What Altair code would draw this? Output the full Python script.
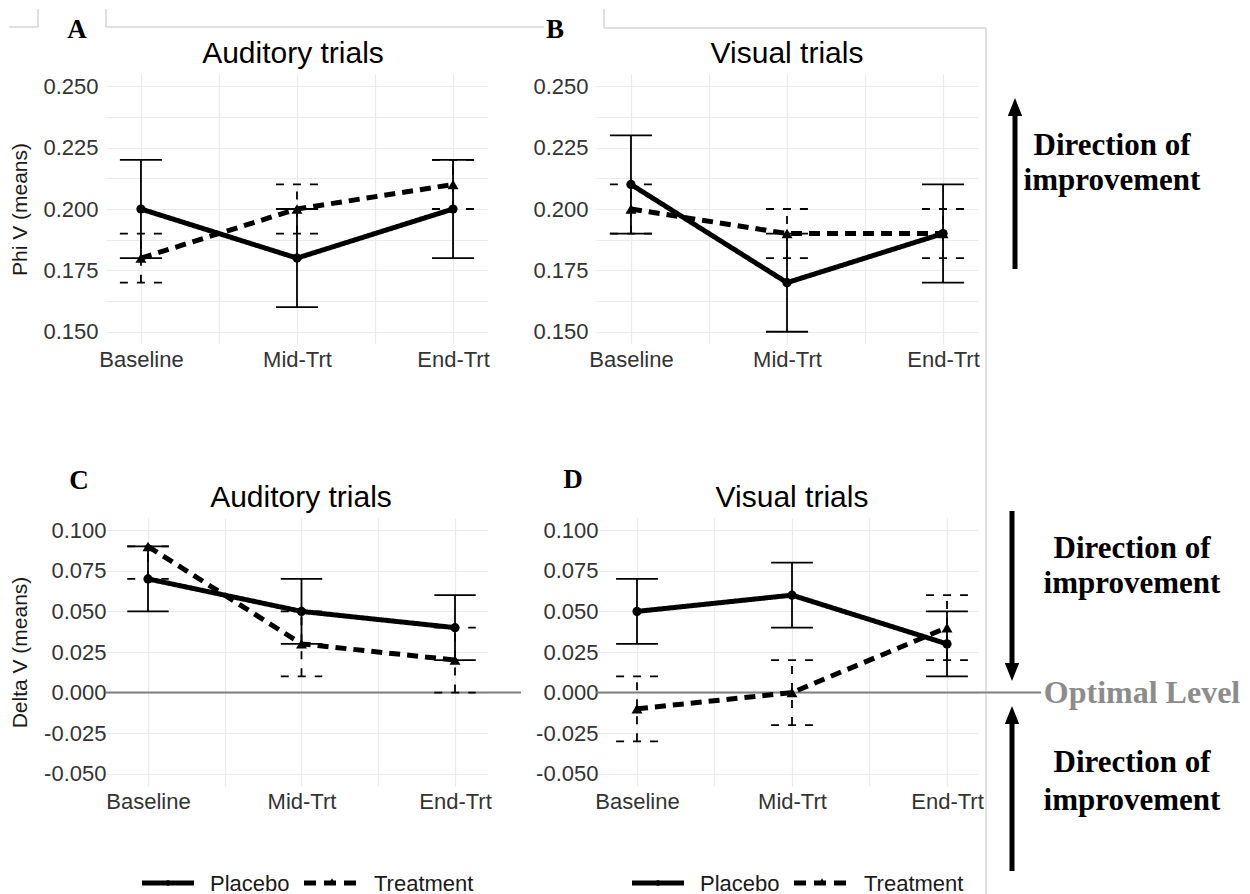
import altair as alt
import pandas as pd

phases = ["Baseline", "Mid-Trt", "End-Trt"]
groups = ["Placebo", "Treatment"]

# Panel A: Auditory trials, Phi V
a_placebo_mean = [0.200, 0.180, 0.200]
a_placebo_low = [0.180, 0.160, 0.180]
a_placebo_high = [0.220, 0.200, 0.220]
a_treat_mean = [0.180, 0.200, 0.210]
a_treat_low = [0.170, 0.190, 0.200]
a_treat_high = [0.190, 0.210, 0.220]

# Panel B: Visual trials, Phi V
b_placebo_mean = [0.210, 0.170, 0.190]
b_placebo_low = [0.190, 0.150, 0.170]
b_placebo_high = [0.230, 0.190, 0.210]
b_treat_mean = [0.200, 0.190, 0.190]
b_treat_low = [0.190, 0.180, 0.180]
b_treat_high = [0.210, 0.200, 0.200]

# Panel C: Auditory trials, Delta V
c_placebo_mean = [0.070, 0.050, 0.040]
c_placebo_low = [0.050, 0.030, 0.020]
c_placebo_high = [0.090, 0.070, 0.060]
c_treat_mean = [0.090, 0.030, 0.020]
c_treat_low = [0.070, 0.010, 0.000]
c_treat_high = [0.090, 0.050, 0.040]

# Panel D: Visual trials, Delta V
d_placebo_mean = [0.050, 0.060, 0.030]
d_placebo_low = [0.030, 0.040, 0.010]
d_placebo_high = [0.070, 0.080, 0.050]
d_treat_mean = [-0.010, 0.000, 0.040]
d_treat_low = [-0.030, -0.020, 0.020]
d_treat_high = [0.010, 0.020, 0.060]

phi_ticks = [0.150, 0.175, 0.200, 0.225, 0.250]
delta_ticks = [-0.050, -0.025, 0.000, 0.025, 0.050, 0.075, 0.100]

panel_titles = ["Auditory trials", "Visual trials", "Auditory trials", "Visual trials"]
panel_letters = ["A", "B", "C", "D"]
y_titles = ["Phi V (means)", "Delta V (means)"]
direction_lines = ["Direction of", "improvement"]
optimal_label = "Optimal Level"

SANS = "Liberation Sans"
SERIF = "Liberation Serif"
TEST_T = f"datum.group === '{groups[1]}'"


def one():
    return pd.DataFrame({"k": [0]})


def make_df(pm, pl, ph, tm, tl, th):
    rows = []
    for g, (m, lo, hi) in zip(groups, [(pm, pl, ph), (tm, tl, th)]):
        for i, p in enumerate(phases):
            rows.append(dict(group=g, phase=p, idx=i + 1, mean=m[i], low=lo[i], high=hi[i]))
    return pd.DataFrame(rows)


def txt(text, x, y, size, font=SANS, weight="normal", color="black", align="center", baseline="alphabetic"):
    return alt.Chart(one()).mark_text(
        text=text, font=font, fontSize=size, fontWeight=weight, color=color,
        align=align, baseline=baseline
    ).encode(x=alt.value(x), y=alt.value(y))


def hline(x1, x2, y, color="#d6d6d6", width=1.5, dash=None):
    kw = dict(color=color, strokeWidth=width)
    if dash is not None:
        kw["strokeDash"] = dash
    return alt.Chart(one()).mark_rule(**kw).encode(
        x=alt.value(x1), x2=alt.value(x2), y=alt.value(y))


def vline(x, y1, y2, color="#d6d6d6", width=1.5):
    return alt.Chart(one()).mark_rule(color=color, strokeWidth=width).encode(
        x=alt.value(x), y=alt.value(y1), y2=alt.value(y2))


def arrow(x, tail, tip, up=True):
    shape = "M0,-1L0.8,1L-0.8,1Z" if up else "M0,1L0.8,-1L-0.8,-1Z"
    head_c = tip + 9 if up else tip - 9
    shaft_end = tip + 14 if up else tip - 14
    shaft = alt.Chart(one()).mark_rule(color="black", strokeWidth=5).encode(
        x=alt.value(x), y=alt.value(tail), y2=alt.value(shaft_end))
    head = alt.Chart(one()).mark_point(shape=shape, size=324, filled=True, opacity=1,
                                       color="black").encode(
        x=alt.value(x), y=alt.value(head_c))
    return [shaft, head]


def panel(df, ticks, ydom, xdom, width, height, title, title_x, letter, letter_xy, ytitle,
          yoffset, title_pad, extras):
    minors = [(ticks[i] + ticks[i + 1]) / 2 for i in range(len(ticks) - 1)]
    yvals = sorted(ticks + minors)
    major_list = ",".join(repr(t) for t in ticks)
    ylabel = (f"indexof([{major_list}], datum.value) >= 0 ? "
              "replace(format(datum.value, '.3f'), '\u2212', '-') : ''")
    xlabel = " : ".join(f"datum.value === {i + 1} ? '{p}'" for i, p in enumerate(phases)) + " : ''"

    xscale = alt.Scale(domain=xdom, nice=False, zero=False)
    yscale = alt.Scale(domain=ydom, nice=False, zero=False)
    xaxis = alt.Axis(values=[1, 1.5, 2, 2.5, 3], labelExpr=xlabel, labelPadding=5,
                     labelFlush=False, labelOverlap=False, grid=True)
    yaxis = alt.Axis(values=yvals, labelExpr=ylabel, labelPadding=8, titlePadding=title_pad,
                     labelFlush=False, labelOverlap=False, grid=True, offset=yoffset)

    def X(f):
        return alt.X(f, scale=xscale, axis=xaxis, title=None)

    def Y(f):
        return alt.Y(f, scale=yscale, axis=yaxis, title=ytitle)

    base = alt.Chart(df)
    err_dash = alt.condition(TEST_T, alt.value([8, 9]), alt.value([1, 0]))
    errbar = base.mark_rule(color="black", strokeWidth=1.8, clip=True).encode(
        x=X("idx:Q"), y=Y("low:Q"), y2="high:Q", strokeDash=err_dash)
    caps = base.transform_calculate(xl="datum.idx - 0.135", xr="datum.idx + 0.135")
    cap_lo = caps.mark_rule(color="black", strokeWidth=1.8, clip=True).encode(
        x=X("xl:Q"), x2="xr:Q", y=Y("low:Q"), strokeDash=err_dash)
    cap_hi = caps.mark_rule(color="black", strokeWidth=1.8, clip=True).encode(
        x=X("xl:Q"), x2="xr:Q", y=Y("high:Q"), strokeDash=err_dash)
    lines = base.mark_line(color="black", strokeWidth=5).encode(
        x=X("idx:Q"), y=Y("mean:Q"), detail="group:N",
        strokeDash=alt.condition(TEST_T, alt.value([11, 7]), alt.value([1, 0])))
    points = base.mark_point(filled=True, opacity=1, color="black").encode(
        x=X("idx:Q"), y=Y("mean:Q"),
        shape=alt.condition(TEST_T, alt.value("triangle-up"), alt.value("circle")),
        size=alt.condition(TEST_T, alt.value(120), alt.value(85)))

    title_t = txt(title, title_x, -11, 30)
    letter_t = txt(letter, letter_xy[0], letter_xy[1], 27, font=SERIF, weight="bold")

    layers = extras["under"] + [errbar, cap_lo, cap_hi, lines, points, title_t, letter_t] + extras["over"]
    return alt.layer(*layers).properties(width=width, height=height)


def legend_layers():
    out = []
    out.append(hline(36, 88, 365, color="black", width=5))
    out.append(alt.Chart(one()).mark_point(shape="circle", size=30, filled=True, opacity=1,
                                           color="black").encode(x=alt.value(62), y=alt.value(365)))
    out.append(txt(groups[0], 104, 366, 22, color="#1a1a1a", align="left", baseline="middle"))
    out.append(hline(198, 256, 365, color="black", width=5, dash=[12, 8]))
    out.append(alt.Chart(one()).mark_point(shape="triangle-up", size=40, filled=True, opacity=1,
                                           color="black").encode(x=alt.value(226), y=alt.value(363)))
    out.append(txt(groups[1], 268, 366, 22, color="#1a1a1a", align="left", baseline="middle"))
    return out


def zero_line(x2):
    return alt.Chart(one()).mark_rule(color="#808080", strokeWidth=2).encode(
        x=alt.value(0), x2=alt.value(x2), y=alt.datum(0))


df_a = make_df(a_placebo_mean, a_placebo_low, a_placebo_high, a_treat_mean, a_treat_low, a_treat_high)
df_b = make_df(b_placebo_mean, b_placebo_low, b_placebo_high, b_treat_mean, b_treat_low, b_treat_high)
df_c = make_df(c_placebo_mean, c_placebo_low, c_placebo_high, c_treat_mean, c_treat_low, c_treat_high)
df_d = make_df(d_placebo_mean, d_placebo_low, d_placebo_high, d_treat_mean, d_treat_low, d_treat_high)

phi_dom = [0.145, 0.255]
delta_dom = [-0.0575, 0.1075]

extras_a = {
    "under": [
        hline(-97, -68, -47), vline(-68, -65, -47),
        vline(0, -65, -47), hline(0, 438, -47),
    ],
    "over": [],
}
extras_b = {
    "under": [
        vline(8, -65, -46), hline(8, 390, -46), vline(390, -46, 821),
    ],
    "over": arrow(419, 195, 24, up=True) + [
        txt(direction_lines[0], 516, 72, 31, font=SERIF, weight="bold", baseline="middle"),
        txt(direction_lines[1], 516, 107, 31, font=SERIF, weight="bold", baseline="middle"),
    ],
}
extras_c = {
    "under": [zero_line(415)],
    "over": legend_layers(),
}
extras_d = {
    "under": [zero_line(445)],
    "over": legend_layers() + arrow(416, -7, 163, up=False) + arrow(416, 353, 188, up=True) + [
        txt(direction_lines[0], 536, 31, 31, font=SERIF, weight="bold", baseline="middle"),
        txt(direction_lines[1], 536, 66, 31, font=SERIF, weight="bold", baseline="middle"),
        alt.Chart(one()).mark_text(text=optimal_label, font=SERIF, fontSize=32, fontWeight="bold",
                                   color="#8c8c8c", align="center", baseline="middle").encode(
            x=alt.value(546), y=alt.datum(0)),
        txt(direction_lines[0], 536, 245, 31, font=SERIF, weight="bold", baseline="middle"),
        txt(direction_lines[1], 536, 283, 31, font=SERIF, weight="bold", baseline="middle"),
    ],
}

pa = panel(df_a, phi_ticks, phi_dom, [0.776, 3.224], 382, 270, panel_titles[0], 187,
           panel_letters[0], (-29, -36), y_titles[0], 0, 12, extras_a)
pb = panel(df_b, phi_ticks, phi_dom, [0.776, 3.224], 382, 270, panel_titles[1], 191,
           panel_letters[1], (-41, -36), None, 0, 7, extras_b)
pc = panel(df_c, delta_ticks, delta_dom, [0.7264, 3.215], 382, 268, panel_titles[2], 195,
           panel_letters[2], (-27, -29), y_titles[1], -8, 13, extras_c)
pd_ = panel(df_d, delta_ticks, delta_dom, [0.7355, 3.2], 382, 268, panel_titles[3], 196,
            panel_letters[3], (-23, -30), None, -10, 7, extras_d)

chart = alt.concat(
    pa, pb, pc, pd_, columns=2, spacing={"row": 174, "column": 108}, bounds="flush"
).properties(
    padding=0
).configure_axis(
    labelFont=SANS, labelFontSize=22, labelColor="#333333",
    titleFont=SANS, titleFontSize=21, titleFontWeight="normal", titleColor="#1a1a1a",
    domain=False, ticks=False, gridColor="#ebebeb", gridWidth=1.2,
).configure_view(strokeOpacity=0)

chart.save("out.html", embed_options={"renderer": "svg", "actions": False})
